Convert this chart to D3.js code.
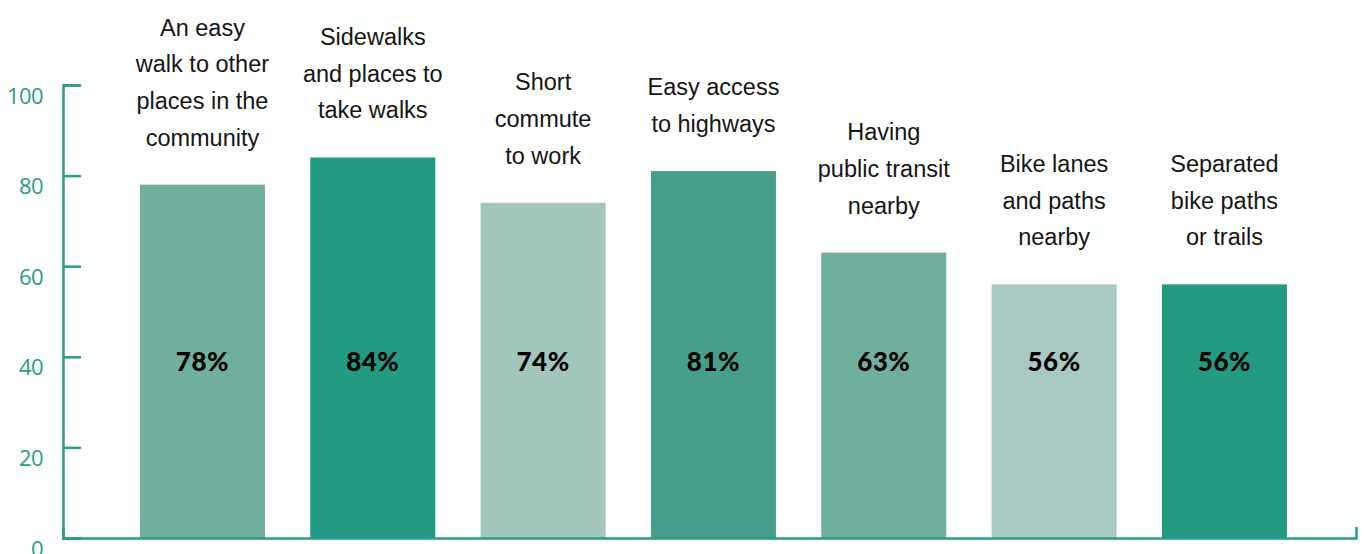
<!DOCTYPE html>
<html>
<head>
<meta charset="utf-8">
<script src="https://cdn.jsdelivr.net/npm/d3@7"></script>
<style>
  body { margin: 0; background: #fff; }
  svg { display: block; }
</style>
</head>
<body>
<div id="chart"></div>
<script>
// Data
var categories = ["walk", "sidewalks", "commute", "highways", "transit", "bikelanes", "bikepaths"];
var labelLines = [
    ["An easy", "walk to other", "places in the", "community"],
    ["Sidewalks", "and places to", "take walks"],
    ["Short", "commute", "to work"],
    ["Easy access", "to highways"],
    ["Having", "public transit", "nearby"],
    ["Bike lanes", "and paths", "nearby"],
    ["Separated", "bike paths", "or trails"]
];
var values = [78, 84, 74, 81, 63, 56, 56];
var barColours = ["#70ae9e", "#239a82", "#a2c5bc", "#479f8b", "#70ae9e", "#a9cac2", "#239a82"];
var yTicks = [0, 20, 40, 60, 80, 100];

var width = 1364, height = 554;
var axisColour = "#2a9d84";

var svg = d3.select("#chart")
    .append("svg")
    .attr("width", width)
    .attr("height", height);

var x = d3.scaleBand()
    .domain(categories)
    .range([63, 1356])
    .paddingInner(0.266)
    .paddingOuter(0.4285)
    .align(0.527);

var y = d3.scaleLinear()
    .domain([0, 100])
    .range([538, 85]);

//bars
svg.selectAll("rect.bar")
    .data(values)
    .enter()
    .append("rect")
    .attr("class", "bar")
    .attr("x", function(d, i){ return x(categories[i]); })
    .attr("y", function(d){ return y(d); })
    .attr("width", x.bandwidth())
    .attr("height", function(d){ return y(0) - y(d); })
    .attr("fill", function(d, i){ return barColours[i]; });

//value labels inside bars
svg.selectAll("text.value")
    .data(values)
    .enter()
    .append("text")
    .attr("class", "value")
    .attr("x", function(d, i){ return x(categories[i]) + x.bandwidth() / 2; })
    .attr("y", 371)
    .attr("text-anchor", "middle")
    .attr("font-family", "Lato, 'DejaVu Sans', sans-serif")
    .attr("font-weight", 900)
    .attr("font-size", 26)
    .attr("letter-spacing", 0.5)
    .attr("fill", "#000")
    .text(function(d){ return d + "%"; });

//category labels above bars, last line sits 39px over the bar top
var lineHeight = 36.7;
var labels = svg.selectAll("text.cat")
    .data(labelLines)
    .enter()
    .append("text")
    .attr("class", "cat")
    .attr("text-anchor", "middle")
    .attr("font-family", "'Liberation Sans', Arial, sans-serif")
    .attr("font-size", 23.5)
    .attr("fill", "#151515");

labels.each(function(lines, i){
    var cx = x(categories[i]) + x.bandwidth() / 2;
    var base = y(values[i]) - 39 - (lines.length - 1) * lineHeight;
    d3.select(this).selectAll("tspan")
        .data(lines)
        .enter()
        .append("tspan")
        .attr("x", cx)
        .attr("y", function(d, j){ return base + j * lineHeight; })
        .text(function(d){ return d; });
});

//y axis, ticks point inward
var yAxis = svg.append("g")
    .attr("transform", "translate(63,0)")
    .call(d3.axisLeft(y).tickValues(yTicks).tickSize(-18).tickPadding(20));

yAxis.select(".domain")
    .attr("stroke", axisColour)
    .attr("stroke-width", 2.5);
yAxis.selectAll(".tick line")
    .attr("stroke", axisColour)
    .attr("stroke-width", 2.5);
yAxis.selectAll(".tick text")
    .attr("fill", axisColour)
    .attr("font-family", "'Open Sans', sans-serif")
    .attr("font-size", 22)
    .attr("letter-spacing", -0.6)
    .attr("dy", 18);

//x axis, only the line with upturned ends
var xAxis = svg.append("g")
    .attr("transform", "translate(0,538)")
    .call(d3.axisBottom(x).tickSizeInner(0).tickSizeOuter(-11).tickFormat(""));

xAxis.select(".domain")
    .attr("stroke", axisColour)
    .attr("stroke-width", 2.5);
xAxis.selectAll(".tick").remove();
</script>
</body>
</html>
